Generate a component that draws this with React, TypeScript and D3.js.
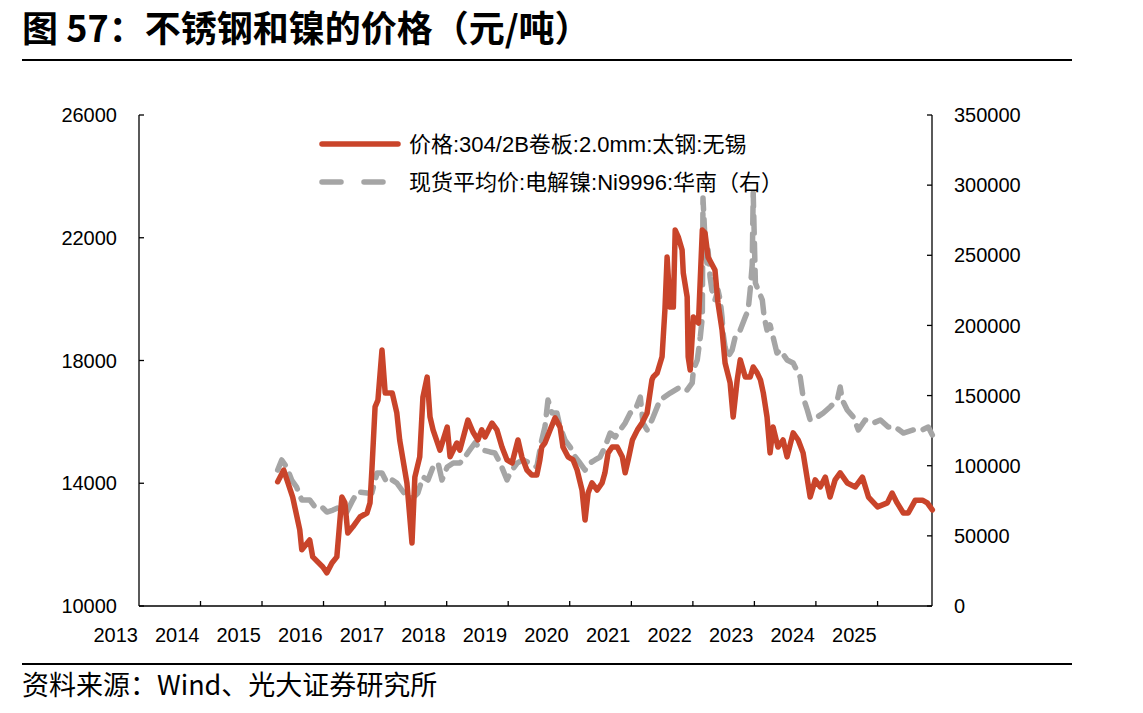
import React from 'react';
import * as d3 from 'd3';

const chartTitle = '图 57：不锈钢和镍的价格（元/吨）';
const sourceText = '资料来源：Wind、光大证券研究所';
const steelName = '价格:304/2B卷板:2.0mm:太钢:无锡';
const nickelName = '现货平均价:电解镍:Ni9996:华南（右）';

const yearTicks = [2013, 2014, 2015, 2016, 2017, 2018, 2019, 2020, 2021, 2022, 2023, 2024, 2025];
const leftTicks = [10000, 14000, 18000, 22000, 26000];
const rightTicks = [0, 50000, 100000, 150000, 200000, 250000, 300000, 350000];

// 304/2B coil, Wuxi (left axis)
const steel: [string, number][] = [
  ['2015-04-04', 14050], ['2015-05-10', 14430], ['2015-07-02', 13550], ['2015-08-13', 12480],
  ['2015-08-25', 11830], ['2015-10-11', 12150], ['2015-10-29', 11600], ['2015-12-28', 11270],
  ['2016-01-21', 11080], ['2016-02-20', 11400], ['2016-03-20', 11600], ['2016-04-19', 13550],
  ['2016-05-07', 13360], ['2016-05-24', 12380], ['2016-06-23', 12580], ['2016-08-04', 12900],
  ['2016-09-15', 13030], ['2016-10-03', 13360], ['2016-10-14', 14430], ['2016-11-02', 16490],
  ['2016-11-19', 16710], ['2016-12-13', 18340], ['2017-01-01', 16940], ['2017-02-12', 16940],
  ['2017-03-11', 16290], ['2017-03-28', 15410], ['2017-05-10', 14010], ['2017-06-09', 12050],
  ['2017-06-26', 14200], ['2017-07-25', 14860], ['2017-08-13', 16810], ['2017-09-07', 17460],
  ['2017-09-24', 16160], ['2017-10-12', 15740], ['2017-11-22', 15080], ['2018-01-04', 15830],
  ['2018-01-21', 14860], ['2018-03-02', 15310], ['2018-03-20', 15080], ['2018-05-07', 16060],
  ['2018-06-06', 15670], ['2018-07-05', 15410], ['2018-07-28', 15740], ['2018-08-16', 15510],
  ['2018-09-27', 15960], ['2018-10-26', 15740], ['2018-11-25', 15180], ['2018-12-25', 14760],
  ['2019-01-24', 14660], ['2019-02-28', 15410], ['2019-03-23', 14860], ['2019-04-22', 14430],
  ['2019-05-21', 14270], ['2019-06-20', 14270], ['2019-07-08', 14760], ['2019-07-19', 15180],
  ['2019-08-07', 15310], ['2019-09-07', 15740], ['2019-10-06', 16130], ['2019-11-05', 15830],
  ['2019-11-22', 15180], ['2019-12-22', 14860], ['2020-01-21', 14760], ['2020-02-14', 14430],
  ['2020-03-14', 13780], ['2020-04-01', 12800], ['2020-04-19', 13680], ['2020-05-12', 14010],
  ['2020-06-12', 13780], ['2020-07-11', 14010], ['2020-07-28', 14340], ['2020-08-16', 14990],
  ['2020-09-09', 15180], ['2020-10-09', 15180], ['2020-11-08', 14860], ['2020-11-25', 14340],
  ['2020-12-13', 14760], ['2021-01-07', 15410], ['2021-02-06', 15740], ['2021-03-05', 15960],
  ['2021-04-04', 16290], ['2021-05-03', 17370], ['2021-05-10', 17460], ['2021-06-03', 17590],
  ['2021-07-02', 18120], ['2021-07-19', 19650], ['2021-08-01', 21370], ['2021-08-19', 19740],
  ['2021-09-07', 19740], ['2021-09-18', 22250], ['2021-10-06', 22030], ['2021-10-29', 21600],
  ['2021-11-05', 20850], ['2021-11-28', 20070], ['2021-12-04', 18120], ['2021-12-16', 17690],
  ['2021-12-28', 18770], ['2022-01-04', 19420], ['2022-02-03', 19220], ['2022-02-26', 22250],
  ['2022-03-14', 22160], ['2022-04-01', 21370], ['2022-05-12', 20950], ['2022-05-30', 19870],
  ['2022-06-23', 19000], ['2022-07-11', 17920], ['2022-08-10', 17270], ['2022-08-28', 16160],
  ['2022-09-21', 17370], ['2022-10-09', 18020], ['2022-11-08', 17460], ['2022-12-07', 17460],
  ['2022-12-25', 17790], ['2023-01-18', 17590], ['2023-02-06', 17370], ['2023-02-23', 16940],
  ['2023-03-17', 16160], ['2023-04-04', 14990], ['2023-04-22', 15830], ['2023-05-21', 15180],
  ['2023-06-20', 15410], ['2023-07-14', 14860], ['2023-08-19', 15640], ['2023-09-18', 15410],
  ['2023-10-17', 14990], ['2023-11-28', 13550], ['2023-12-28', 14110], ['2024-01-27', 13880],
  ['2024-02-26', 14200], ['2024-03-25', 13550], ['2024-04-24', 14110], ['2024-05-24', 14340],
  ['2024-07-05', 14010], ['2024-08-22', 13880], ['2024-10-03', 14200], ['2024-11-08', 13550],
  ['2025-01-01', 13230], ['2025-02-28', 13360], ['2025-03-28', 13680], ['2025-04-27', 13360],
  ['2025-06-03', 13030], ['2025-07-02', 13030], ['2025-08-13', 13450], ['2025-09-24', 13450],
  ['2025-10-23', 13360], ['2025-11-22', 13130],
];

// electrolytic nickel Ni9996 spot, South China (right axis)
const nickel: [string, number][] = [
  ['2015-04-04', 96900], ['2015-04-28', 104100], ['2015-05-27', 99100], ['2015-06-26', 89800],
  ['2015-07-25', 84800], ['2015-08-25', 75600], ['2015-10-11', 75600], ['2015-11-11', 70600],
  ['2015-12-22', 70600], ['2016-01-21', 67000], ['2016-02-26', 68400], ['2016-04-07', 70600],
  ['2016-05-18', 67000], ['2016-06-23', 75600], ['2016-07-22', 81300], ['2016-09-15', 80600],
  ['2016-10-14', 80600], ['2016-11-14', 94800], ['2016-12-13', 94800], ['2017-01-12', 87700],
  ['2017-02-12', 89800], ['2017-03-11', 87700], ['2017-03-28', 84800], ['2017-05-10', 77700],
  ['2017-06-14', 77000], ['2017-07-14', 80600], ['2017-08-13', 92000], ['2017-09-12', 89800],
  ['2017-10-12', 99100], ['2017-11-11', 101900], ['2017-12-04', 89800], ['2018-01-04', 99100],
  ['2018-02-09', 101900], ['2018-03-20', 101900], ['2018-04-19', 106200], ['2018-05-18', 111200],
  ['2018-06-17', 116200], ['2018-08-04', 111200], ['2018-09-15', 109800], ['2018-10-14', 109100],
  ['2018-11-14', 101900], ['2018-12-25', 89800], ['2019-01-12', 94800], ['2019-02-23', 101900],
  ['2019-03-28', 104100], ['2019-05-10', 101900], ['2019-06-20', 99100], ['2019-07-19', 118300],
  ['2019-08-07', 127600], ['2019-08-25', 146800], ['2019-09-18', 137600], ['2019-10-17', 137600],
  ['2019-11-05', 127600], ['2019-12-04', 118300], ['2020-01-04', 113300], ['2020-02-03', 106200],
  ['2020-03-02', 101900], ['2020-04-01', 96900], ['2020-05-01', 101900], ['2020-05-30', 104100],
  ['2020-06-29', 106200], ['2020-07-28', 113300], ['2020-08-28', 123300], ['2020-09-27', 120500],
  ['2020-10-26', 125500], ['2020-11-25', 130400], ['2020-12-25', 137600], ['2021-01-24', 139700],
  ['2021-02-23', 149000], ['2021-03-11', 130400], ['2021-04-04', 125500], ['2021-05-03', 132600],
  ['2021-06-20', 146800], ['2021-08-19', 151800], ['2021-10-17', 156100], ['2021-11-28', 154000],
  ['2021-12-28', 159000], ['2022-01-04', 168200], ['2022-01-27', 175400], ['2022-02-14', 191700],
  ['2022-02-26', 206000], ['2022-03-02', 290800], ['2022-03-14', 260900], ['2022-03-25', 244500],
  ['2022-04-01', 253800], ['2022-04-13', 234500], ['2022-04-24', 225200], ['2022-05-12', 218100],
  ['2022-05-30', 225200], ['2022-06-12', 218100], ['2022-06-23', 206000], ['2022-06-29', 194600],
  ['2022-07-11', 184600], ['2022-07-28', 177500], ['2022-08-22', 182500], ['2022-09-09', 191700],
  ['2022-10-09', 196700], ['2022-11-08', 206000], ['2022-11-25', 211000], ['2022-12-07', 225200],
  ['2022-12-19', 243100], ['2022-12-25', 294400], ['2023-01-07', 230200], ['2023-01-24', 225200],
  ['2023-02-17', 218100], ['2023-02-28', 206000], ['2023-03-17', 196700], ['2023-04-04', 200300],
  ['2023-04-22', 191700], ['2023-05-15', 180300], ['2023-06-03', 182500], ['2023-07-14', 175400],
  ['2023-08-19', 173200], ['2023-09-30', 163200], ['2023-10-17', 149000], ['2023-11-11', 139700],
  ['2023-11-28', 132600], ['2024-01-09', 134700], ['2024-02-14', 137600], ['2024-03-25', 141900],
  ['2024-05-07', 146800], ['2024-05-24', 156100], ['2024-06-06', 146800], ['2024-07-05', 139700],
  ['2024-08-10', 134700], ['2024-09-09', 125500], ['2024-10-19', 132600], ['2024-12-07', 130400],
  ['2025-01-18', 132600], ['2025-03-05', 127600], ['2025-04-16', 127600], ['2025-06-03', 123300],
  ['2025-08-01', 125500], ['2025-09-24', 125500], ['2025-10-29', 127600], ['2025-11-22', 121900],
];

const RED = '#c9442a';
const GRAY = '#a5a5a5';
const FONT = '"Liberation Sans", Arial, "Noto Sans CJK SC", sans-serif';
const CJK = '"Noto Sans CJK SC", "Liberation Sans", sans-serif';

const parse = d3.timeParse('%Y-%m-%d');

export default function App() {
  const W = 1143;
  const H = 713;
  const plot = { left: 139, right: 932, top: 115, bottom: 606 };

  const x = d3.scaleTime()
    .domain([new Date(2013, 0, 1), new Date(2025, 10, 20)])
    .range([plot.left, plot.right]);
  const yL = d3.scaleLinear().domain([10000, 26000]).range([plot.bottom, plot.top]);
  const yR = d3.scaleLinear().domain([0, 350000]).range([plot.bottom, plot.top]);

  const steelLine = d3.line<[string, number]>()
    .x(d => x(parse(d[0]) as Date))
    .y(d => yL(d[1]));
  const nickelLine = d3.line<[string, number]>()
    .x(d => x(parse(d[0]) as Date))
    .y(d => yR(d[1]));

  return (
    <svg width={W} height={H} style={{ position: 'absolute', left: 0, top: 0, background: '#fff' }}>
      <text x={22} y={42} fontFamily={CJK} fontWeight="bold" fontSize={36} fill="#000">{chartTitle}</text>
      <line x1={22} x2={1072} y1={60} y2={60} stroke="#000" strokeWidth={2} />

      {/* axes */}
      <g stroke="#000" strokeWidth={1.3} fill="none">
        <line x1={plot.left} x2={plot.left} y1={plot.top} y2={plot.bottom} />
        <line x1={plot.right} x2={plot.right} y1={plot.top} y2={plot.bottom} />
        <line x1={plot.left} x2={plot.right} y1={plot.bottom} y2={plot.bottom} />
        {leftTicks.map(t => (
          <line key={'l' + t} x1={plot.left} x2={plot.left + 5} y1={yL(t)} y2={yL(t)} />
        ))}
        {rightTicks.map(t => (
          <line key={'r' + t} x1={plot.right - 5} x2={plot.right} y1={yR(t)} y2={yR(t)} />
        ))}
        {yearTicks.slice(1).map(t => (
          <line key={'x' + t} x1={x(new Date(t, 0, 1))} x2={x(new Date(t, 0, 1))} y1={plot.bottom - 5} y2={plot.bottom} />
        ))}
      </g>

      <g fontFamily={FONT} fontSize={20} fill="#000">
        {leftTicks.map(t => (
          <text key={'lt' + t} x={117} y={yL(t)} dy="0.36em" textAnchor="end">{t}</text>
        ))}
        {rightTicks.map(t => (
          <text key={'rt' + t} x={954} y={yR(t)} dy="0.36em" textAnchor="start">{t}</text>
        ))}
        {yearTicks.map(t => (
          <text key={'xt' + t} x={x(new Date(t, 0, 1)) - 1} y={642} textAnchor="end">{t}</text>
        ))}
      </g>

      {/* series */}
      <path d={nickelLine(nickel) ?? ''} fill="none" stroke={GRAY} strokeWidth={5.5}
        strokeDasharray="17 10" strokeLinecap="round" strokeLinejoin="round" />
      <path d={steelLine(steel) ?? ''} fill="none" stroke={RED} strokeWidth={5.5}
        strokeLinecap="round" strokeLinejoin="round" />

      {/* legend */}
      <line x1={322} x2={398} y1={144} y2={144} stroke={RED} strokeWidth={5.5} strokeLinecap="round" />
      <line x1={322} x2={386} y1={182} y2={182} stroke={GRAY} strokeWidth={5.5}
        strokeDasharray="19 23" strokeLinecap="round" />
      <g fontFamily={FONT} fontSize={22} fill="#000">
        <text x={409} y={144} dy="0.36em">{steelName}</text>
        <text x={409} y={182} dy="0.36em">{nickelName}</text>
      </g>

      <line x1={22} x2={1072} y1={664} y2={664} stroke="#000" strokeWidth={2} />
      <text x={22} y={695} fontFamily={CJK} fontSize={27} fill="#000">{sourceText}</text>
    </svg>
  );
}
